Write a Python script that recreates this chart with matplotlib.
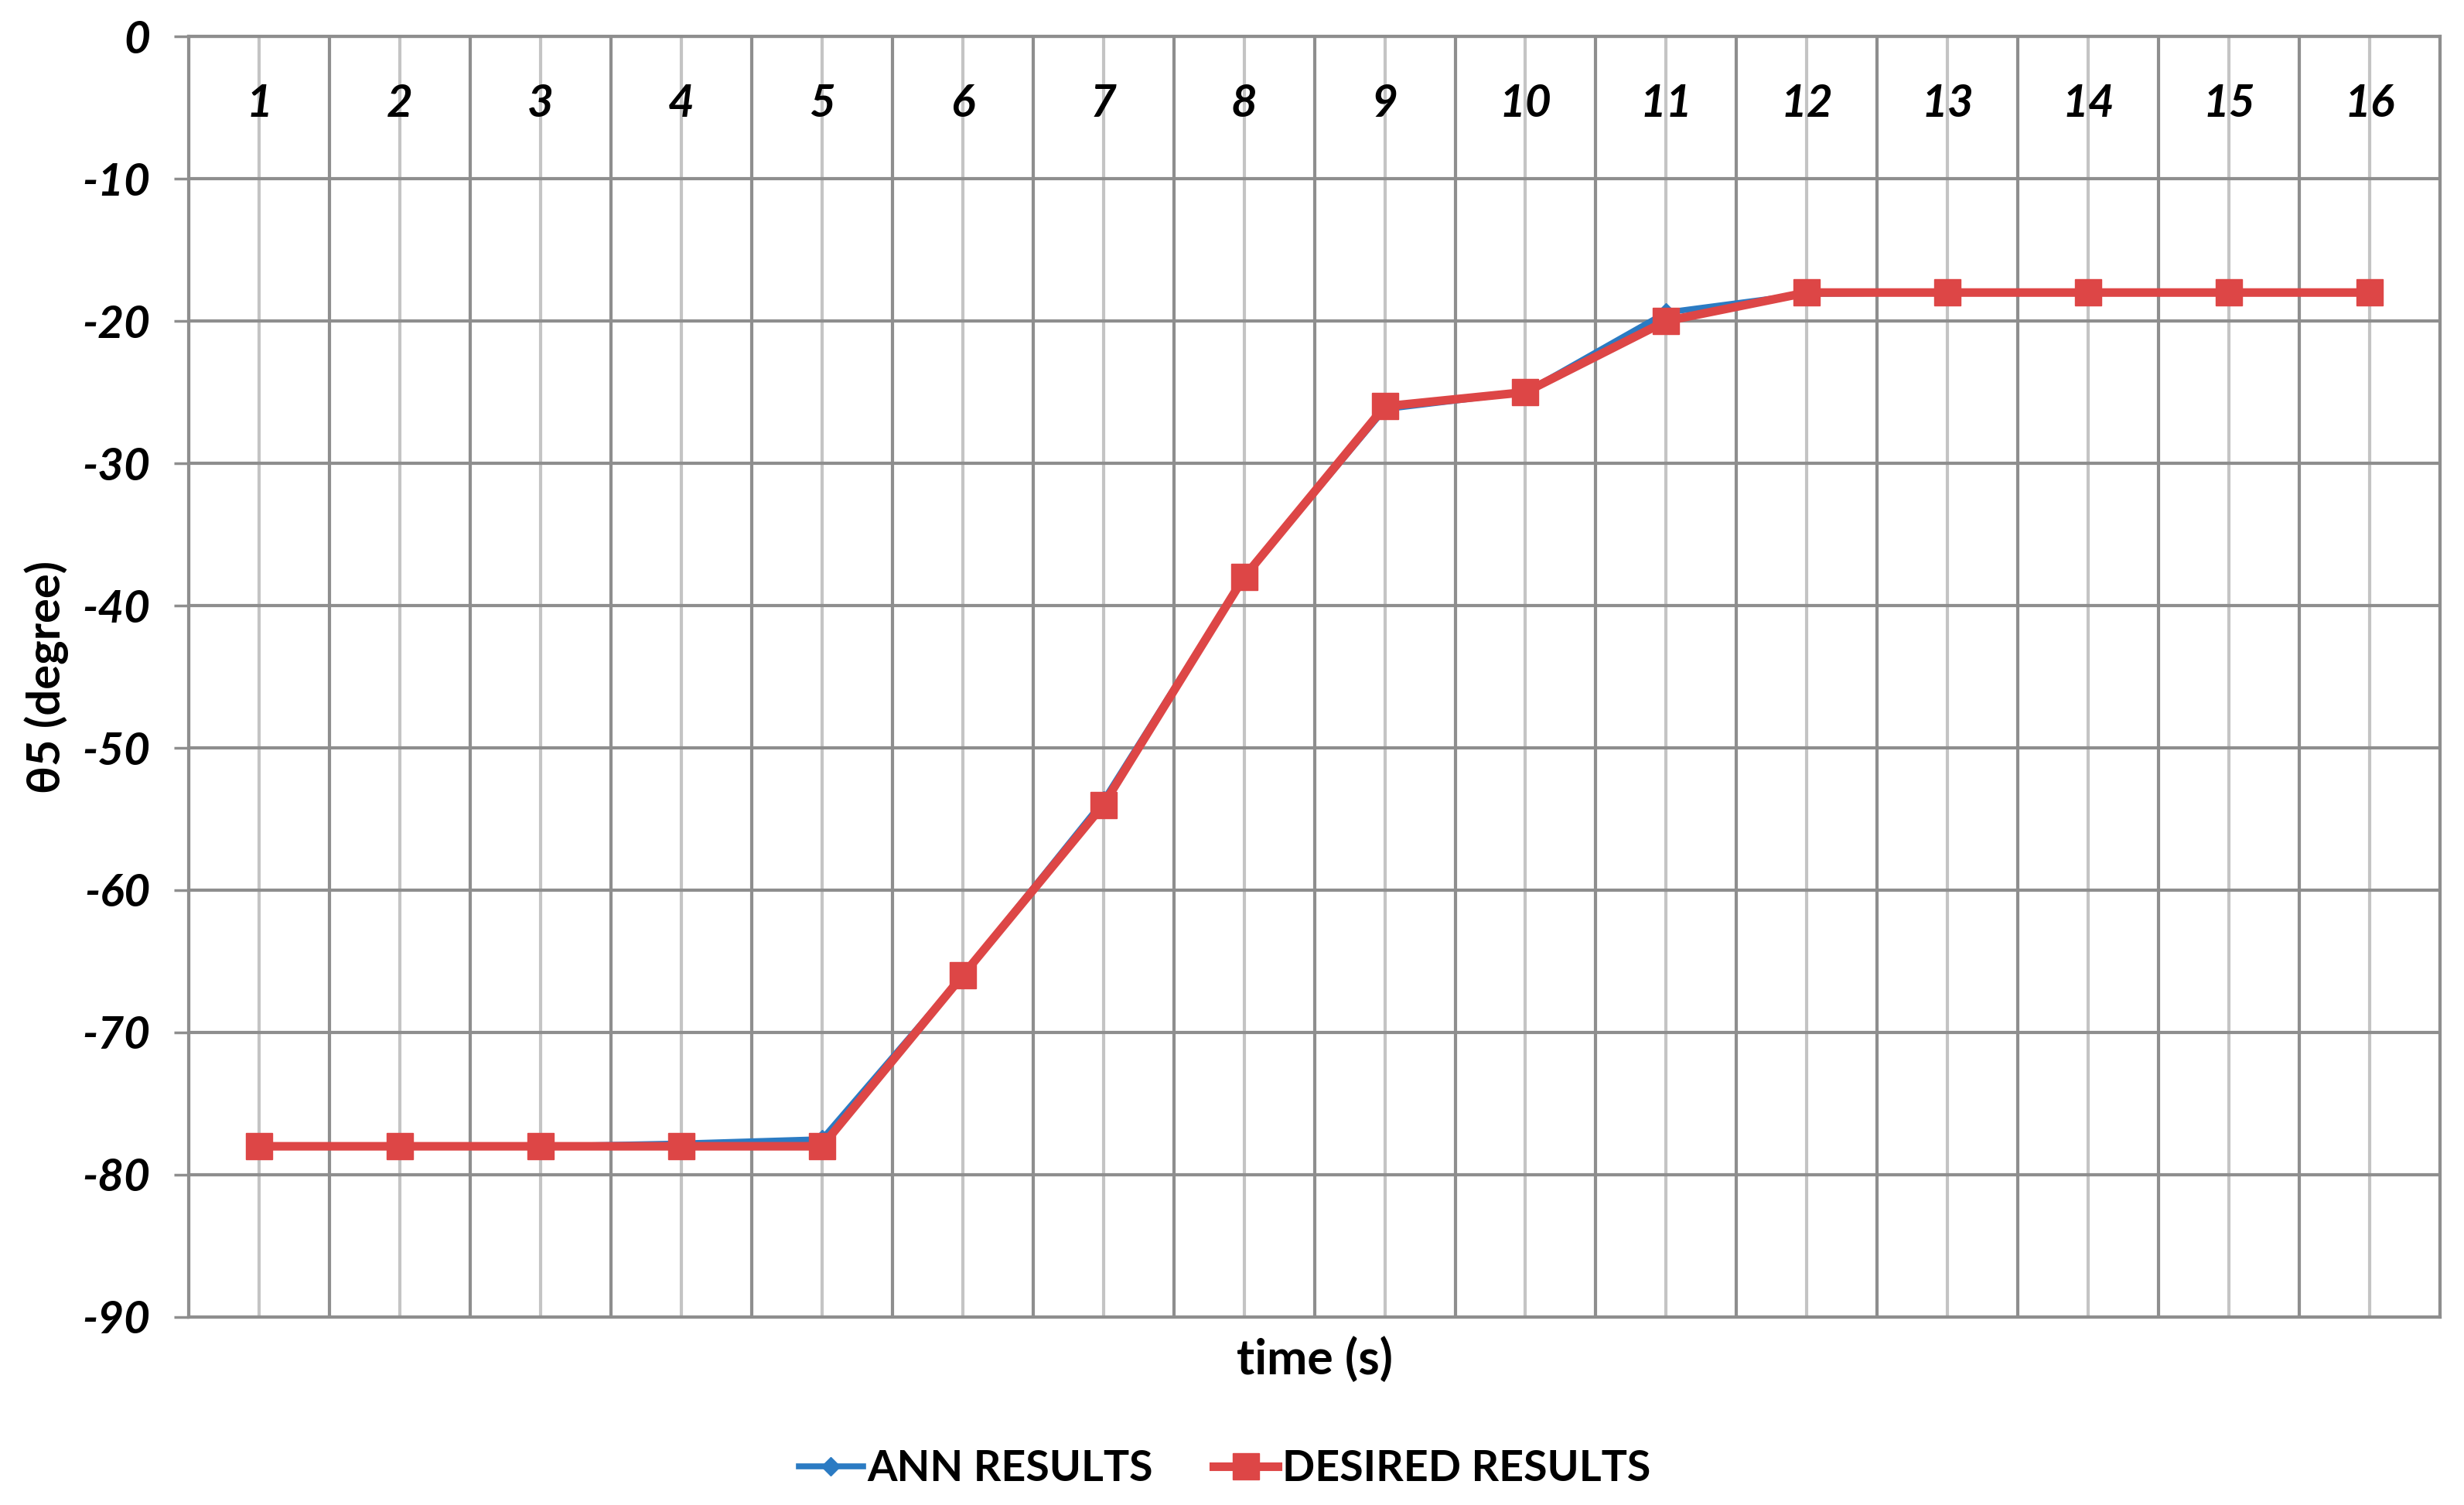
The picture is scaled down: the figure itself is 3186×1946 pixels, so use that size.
import numpy as np
import matplotlib.pyplot as plt
from matplotlib.ticker import FixedLocator

# time steps and joint angle theta5 (degree)
time_s = list(range(1, 17))
ann_results = [-78, -78, -78, -77.8, -77.5, -66, -53.7, -38, -26.2, -25, -19.4, -18.1, -18, -18, -18, -18]
desired_results = [-78, -78, -78, -78, -78, -66, -54, -38, -26, -25, -20, -18, -18, -18, -18, -18]
y_ticks = list(range(0, -100, -10))

blue = '#2B7BC3'
red = '#DD4646'
dark_grid = '#8E8E8E'
light_grid = '#C4C4C4'

plt.rcParams['font.family'] = ['Lato', 'DejaVu Sans']
plt.rcParams['axes.unicode_minus'] = False

fig = plt.figure(figsize=(31.86, 19.46), dpi=100)
ax = fig.add_axes([0.0766, 0.1249, 0.9137, 0.8509])

ax.plot(time_s, ann_results, color=blue, lw=5.5, marker='D', ms=12, label='ANN RESULTS', zorder=3)
ax.plot(time_s, desired_results, color=red, lw=8, marker='s', ms=25, label='DESIRED RESULTS', zorder=4)

ax.set_xlim(0.5, 16.5)
ax.set_ylim(-90, 0)

# category labels at centres (light grid), boundaries get the darker grid
ax.xaxis.set_major_locator(FixedLocator(time_s))
ax.xaxis.set_minor_locator(FixedLocator(np.arange(0.5, 17, 1)))
ax.set_xticklabels([str(t) for t in time_s])
ax.tick_params(axis='x', which='both', length=0, bottom=False, labelbottom=False,
               top=True, labeltop=True, pad=-82)
ax.grid(True, which='major', axis='x', color=light_grid, lw=3)
ax.grid(True, which='minor', axis='x', color=dark_grid, lw=3)

ax.set_yticks(y_ticks)
ax.tick_params(axis='y', length=14, width=2.5, color=dark_grid, direction='out', pad=22)
ax.grid(True, which='major', axis='y', color=dark_grid, lw=3)
ax.set_axisbelow(True)

for lab in ax.get_xticklabels() + ax.get_yticklabels():
    lab.set_fontsize(42)
    lab.set_fontweight('bold')
    lab.set_fontstyle('italic')

for sp in ax.spines.values():
    sp.set_color(dark_grid)
    sp.set_linewidth(3)

ax.set_xlabel('time (s)', fontsize=45, fontweight='bold', labelpad=18)
ax.set_ylabel('θ5 (degree)', fontsize=43, fontweight='bold', labelpad=12)

fig.legend(loc='center', bbox_to_anchor=(0.497, 0.024), ncol=2, frameon=False,
           prop={'weight': 'bold', 'size': 40}, handlelength=1.5,
           handletextpad=0.1, columnspacing=1.4)

fig.savefig('out.png', dpi=100)
